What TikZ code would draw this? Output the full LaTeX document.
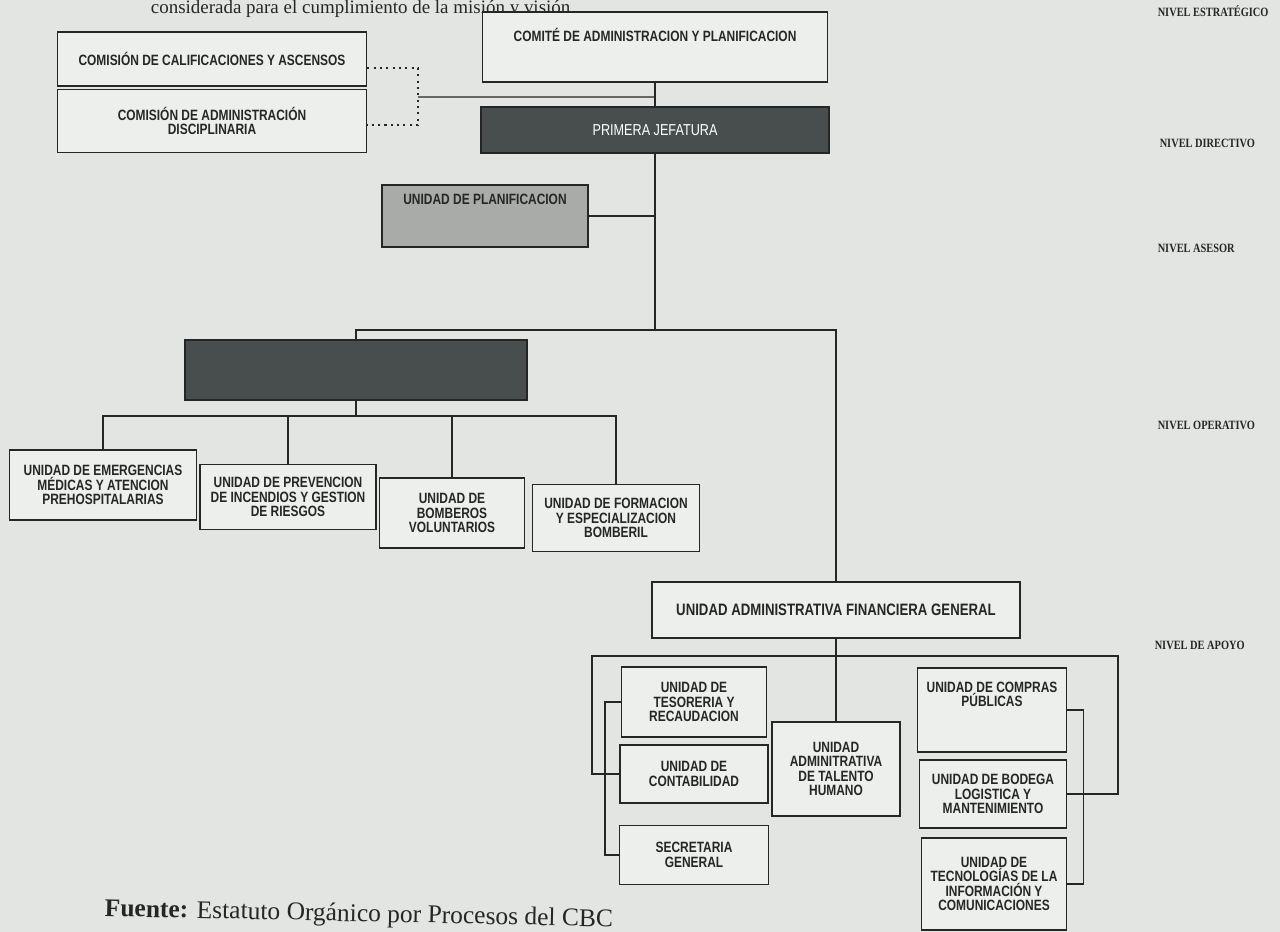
\documentclass[tikz,border=0pt]{standalone}
\usepackage{fontspec}
\usepackage{tikz}
\newfontfamily\orgfont[FakeStretch=0.8]{Liberation Sans}
\newfontfamily\lvlfont[FakeStretch=0.82]{Liberation Serif}
\newfontfamily\docfont{Liberation Serif}
\definecolor{paper}{RGB}{226,229,226}
\definecolor{boxfill}{RGB}{237,239,237}
\definecolor{darkbox}{RGB}{72,78,78}
\definecolor{greybox}{RGB}{168,171,168}
\definecolor{ink}{RGB}{38,38,38}
\newcommand{\lift}[1]{\rule[-#1]{0pt}{0pt}}

\begin{document}
\begin{tikzpicture}[x=0.02cm, y=-0.02cm, line width=1pt, color=ink,
  box/.style={draw=ink, fill=boxfill, align=center, inner sep=1pt,
    font=\orgfont\bfseries\fontsize{8.5}{8.2}\selectfont},
  level/.style={anchor=west, font=\lvlfont\bfseries\fontsize{7.2}{8}\selectfont},
  dots/.style={line width=0.9pt, dash pattern=on 1.2pt off 2.4pt},
  faint/.style={line width=0.7pt, draw=ink!70}]
  \useasboundingbox (0,0) rectangle (1280,932);
  \fill[paper] (0,0) rectangle (1280,932);

  % page text behind the photo
  \node[anchor=base west, inner sep=0pt, font=\docfont\fontsize{10.8}{12}\selectfont] (intro) at (150,14)
    {considerada para el cumplimiento de la misión y visión};

  % strategic and directive level
  \node [box, minimum width=6.18cm, minimum height=1.08cm] (calif) at (212,59)
    {COMISIÓN DE CALIFICACIONES Y ASCENSOS};
  \node [box, minimum width=6.18cm, minimum height=1.26cm] (disc) at (212,121)
    {COMISIÓN DE ADMINISTRACIÓN\\DISCIPLINARIA};
  \node [box, minimum width=6.9cm, minimum height=1.4cm] (comite) at (655,47)
    {COMITÉ DE ADMINISTRACION Y PLANIFICACION\lift{0.5cm}};
  \node [box, fill=darkbox, text=white, font=\orgfont\fontsize{9}{9}\selectfont,
    minimum width=6.96cm, minimum height=0.92cm] (jefatura) at (655,130)
    {PRIMERA JEFATURA};
  \node [box, fill=greybox, minimum width=4.12cm, minimum height=1.24cm] (planif) at (485,216)
    {UNIDAD DE PLANIFICACION\lift{0.68cm}};

  % operative level
  \node [box, fill=darkbox, minimum width=6.84cm, minimum height=1.2cm] (op) at (356,370) {};
  \node [box, minimum width=3.74cm, minimum height=1.4cm] (o1) at (103,485)
    {UNIDAD DE EMERGENCIAS\\MÉDICAS Y ATENCION\\PREHOSPITALARIAS};
  \node [box, minimum width=3.52cm, minimum height=1.3cm] (o2) at (288,497)
    {UNIDAD DE PREVENCION\\DE INCENDIOS Y GESTION\\DE RIESGOS};
  \node [box, minimum width=2.9cm, minimum height=1.4cm] (o3) at (452,513)
    {UNIDAD DE\\BOMBEROS\\VOLUNTARIOS};
  \node [box, minimum width=3.34cm, minimum height=1.34cm] (o4) at (616,518)
    {UNIDAD DE FORMACION\\Y ESPECIALIZACION\\BOMBERIL};

  % support level
  \node [box, font=\orgfont\bfseries\fontsize{9.4}{9}\selectfont,
    minimum width=7.36cm, minimum height=1.12cm] (uafg) at (836,610)
    {UNIDAD ADMINISTRATIVA FINANCIERA GENERAL};
  \node [box, minimum width=2.9cm, minimum height=1.4cm] (teso) at (694,702)
    {UNIDAD DE\\TESORERIA Y\\RECAUDACION};
  \node [box, minimum width=2.96cm, minimum height=1.16cm] (conta) at (694,774)
    {UNIDAD DE\\CONTABILIDAD};
  \node [box, minimum width=2.98cm, minimum height=1.18cm] (secre) at (694,855)
    {SECRETARIA\\GENERAL};
  \node [box, minimum width=2.56cm, minimum height=1.88cm] (talento) at (836,769)
    {UNIDAD\\ADMINITRATIVA\\DE TALENTO\\HUMANO};
  \node [box, minimum width=2.98cm, minimum height=1.68cm] (compras) at (992,710)
    {UNIDAD DE COMPRAS\\PÚBLICAS\lift{0.62cm}};
  \node [box, minimum width=2.94cm, minimum height=1.36cm] (bodega) at (993,794)
    {UNIDAD DE BODEGA\\LOGISTICA Y\\MANTENIMIENTO};
  \node [box, minimum width=2.9cm, minimum height=1.84cm] (tic) at (994,884)
    {UNIDAD DE\\TECNOLOGÍAS DE LA\\INFORMACIÓN Y\\COMUNICACIONES};

  % connectors
  \coordinate (cbr) at (418,97);
  \coordinate (hub) at (jefatura.south |- 0,330);
  \coordinate (obus) at (op.south |- 0,416);
  \coordinate (sl) at (592,656);
  \coordinate (sr) at (1118,656);
  \draw[dots] ([yshift=-0.18cm]calif.east) -| (cbr) |- ([yshift=-0.08cm]disc.east);
  \draw[faint] (cbr) -- (cbr -| jefatura.north);
  \draw (comite.south) -- (jefatura.north);
  \draw (jefatura.south) -- (hub);
  \draw (planif.east) -- (planif.east -| hub);
  \draw (op.north) |- (hub) -| (uafg.north);
  \draw (op.south) -- (obus);
  \foreach \u in {o1,o2,o3,o4}
    \draw (\u.north) |- (obus);
  \draw (uafg.south) -- (talento.north);
  \draw (conta.west) -| (sl) -- (sr) |- (bodega.east);
  \draw (teso.west) -- ++(-16,0) |- (secre.west);
  \draw (compras.east) -- ++(16,0) |- (tic.east);

  % levels
  \node [level] (lvest) at (1151,11) {NIVEL ESTRATÉGICO};
  \node [level] (lvdir) at (1153,143) {NIVEL DIRECTIVO};
  \node [level] (lvase) at (1151,248) {NIVEL ASESOR};
  \node [level] (lvope) at (1151,425) {NIVEL OPERATIVO};
  \node [level] (lvapo) at (1148,645) {NIVEL DE APOYO};

  \node[anchor=base west, rotate=-1.2, font=\docfont\fontsize{14.5}{15}\selectfont] (fuente) at (98,916)
    {\textbf{Fuente:} Estatuto Orgánico por Procesos del CBC};
\end{tikzpicture}
\end{document}
